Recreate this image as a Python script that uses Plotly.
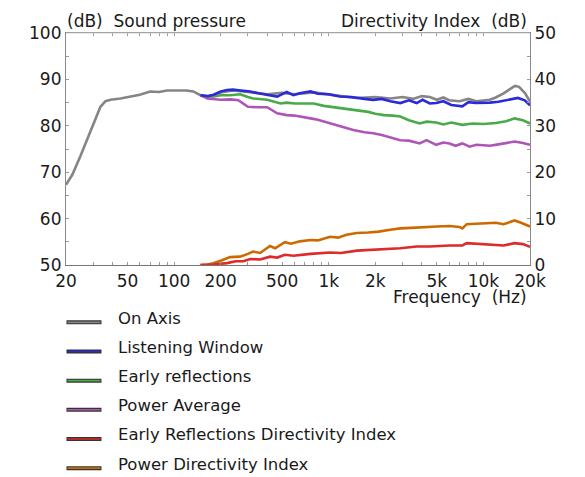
import plotly.graph_objects as go

# ---------------- data ----------------
on_axis_f = [20, 22, 24.8, 27, 28.8, 31, 33.4, 36, 38.8, 45, 50, 54.6, 60, 70, 80, 90, 100, 110, 120, 133, 148,
             165, 180, 200, 240, 300, 400, 500, 600, 800, 1000, 1200, 1500, 2000, 2500, 3000, 3500, 4000, 4500,
             5000, 5500, 6000, 7000, 8000, 9000, 10000, 11000, 12000, 13500, 15000, 16000, 17000, 18600, 20000]
on_axis_db = [67.3, 69.5, 73.5, 76.5, 78.8, 81.5, 84.1, 85.3, 85.6, 85.9, 86.2, 86.3, 86.7, 87.4, 87.3, 87.6, 87.6,
              87.7, 87.6, 87.4, 86.6, 86.3, 86.4, 87.2, 87.6, 87.3, 86.8, 87.1, 86.8, 87.2, 86.7, 86.4, 86.0, 86.2,
              85.9, 86.2, 85.8, 86.4, 86.2, 85.6, 86.1, 85.5, 85.3, 85.8, 85.3, 85.4, 85.6, 86.1, 87.0, 88.0, 88.6,
              88.4, 87.0, 85.2]

lw_f = [148, 165, 180, 200, 220, 240, 270, 311, 350, 400, 464, 535, 590, 650, 762, 850, 1000, 1180, 1400, 1700,
        1940, 2200, 2500, 2900, 3300, 3700, 4040, 4500, 4950, 5500, 6200, 7300, 8000, 8900, 10000, 11000, 12500,
        14500, 16700, 18500, 20000]
lw_db = [86.6, 86.4, 86.7, 87.4, 87.7, 87.8, 87.6, 87.4, 87.0, 86.6, 86.3, 87.3, 86.6, 87.0, 87.4, 86.9, 86.8,
         86.3, 86.2, 85.8, 85.6, 85.8, 85.3, 84.9, 85.5, 84.9, 85.6, 84.8, 84.9, 85.3, 84.5, 84.2, 85.1, 84.9, 84.9,
         85.0, 85.2, 85.6, 86.0, 85.5, 84.4]

er_f = [148, 165, 180, 200, 230, 267, 300, 324, 400, 488, 535, 600, 700, 800, 929, 1100, 1300, 1520, 1800, 2000,
        2270, 2600, 2900, 3300, 3870, 4300, 4950, 5500, 6200, 7300, 8500, 10000, 12000, 14000, 15900, 18000, 20000]
er_db = [86.6, 86.3, 86.3, 86.6, 86.6, 86.8, 86.2, 85.9, 85.6, 84.8, 85.0, 84.8, 84.8, 84.8, 84.3, 84.0, 83.7,
         83.4, 83.0, 82.6, 82.3, 82.2, 82.0, 81.2, 80.5, 80.9, 80.7, 80.3, 80.7, 80.2, 80.5, 80.4, 80.6, 81.0, 81.6,
         81.2, 80.5]

pw_f = [148, 164, 199, 233, 260, 300, 350, 400, 464, 535, 600, 700, 762, 850, 1020, 1200, 1440, 1700, 1940, 2200,
        2500, 2900, 3300, 3870, 4290, 4950, 5500, 6040, 6600, 7300, 8150, 9000, 10000, 11000, 12500, 14000, 15900,
        18000, 20000]
pw_db = [86.6, 85.9, 85.6, 85.7, 85.5, 84.1, 84.0, 84.0, 82.7, 82.3, 82.2, 81.9, 81.6, 81.3, 80.5, 79.9, 79.1,
         78.6, 78.4, 78.0, 77.5, 76.9, 76.8, 76.2, 76.9, 75.9, 76.4, 76.2, 75.7, 76.2, 75.5, 75.9, 75.8, 75.7, 76.0,
         76.3, 76.6, 76.3, 75.9]

erdi_f = [148, 180, 220, 250, 280, 311, 360, 417, 464, 520, 590, 650, 762, 1020, 1200, 1520, 2100, 2900, 3700,
          4500, 6040, 7300, 7800, 9000, 11000, 13500, 15900, 18000, 20000]
erdi_db = [0.0, 0.1, 0.4, 0.8, 0.8, 1.3, 1.2, 1.8, 1.6, 2.2, 2.0, 2.2, 2.4, 2.7, 2.6, 3.1, 3.4, 3.6, 4.0, 4.0, 4.2,
           4.2, 4.7, 4.6, 4.5, 4.2, 4.7, 4.5, 3.9]

pdi_f = [148, 165, 179, 200, 230, 267, 300, 324, 360, 417, 450, 520, 570, 650, 762, 850, 1020, 1150, 1300, 1520,
         1800, 2100, 2500, 2900, 3400, 4040, 5000, 6040, 7000, 7300, 7800, 9000, 10500, 12000, 13500, 15900, 17500,
         20000]
pdi_db = [0.0, 0.1, 0.4, 0.9, 1.7, 1.8, 2.4, 2.9, 2.6, 4.1, 3.6, 4.9, 4.6, 5.1, 5.4, 5.3, 6.1, 5.9, 6.5, 6.9, 7.0,
          7.2, 7.6, 7.9, 8.0, 8.2, 8.3, 8.4, 8.2, 7.9, 8.8, 8.9, 9.0, 9.1, 8.8, 9.6, 9.1, 8.3]

x_tick_vals = [20, 50, 100, 200, 500, 1000, 2000, 5000, 10000, 20000]
x_tick_text = ["20", "50", "100", "200", "500", "1k", "2k", "5k", "10k", "20k"]
x_minor_vals = [30, 40, 60, 70, 80, 90, 300, 400, 600, 700, 800, 900, 3000, 4000, 6000, 7000, 8000, 9000]

series = [
    ("On Axis", on_axis_f, on_axis_db, "#858585", "y"),
    ("Listening Window", lw_f, lw_db, "#2a2ad8", "y"),
    ("Early reflections", er_f, er_db, "#4aaa4a", "y"),
    ("Power Average", pw_f, pw_db, "#b055b8", "y"),
    ("Early Reflections Directivity Index", erdi_f, erdi_db, "#dd2a2a", "y2"),
    ("Power Directivity Index", pdi_f, pdi_db, "#cc6a00", "y2"),
]

# ---------------- figure ----------------
OFF = 8  # page body margin
W, H = 585 - OFF, 477 - OFF
L, R, T, B = 65.5 - OFF, 55, 33 - OFF, 211.7
pw = W - L - R
ph = H - T - B
FONT = "DejaVu Sans"

fig = go.Figure()
draw_order = [5, 4, 3, 2, 0, 1]
for i in draw_order:
    name, f, v, c, ax = series[i]
    fig.add_trace(go.Scatter(x=f, y=v, mode="lines", name=name, yaxis=ax,
                             line=dict(color=c, width=2.6), showlegend=False))

axis_col = "#8a8a8a"
fig.update_layout(
    width=W, height=H,
    margin=dict(l=L, r=R, t=T, b=B, pad=0),
    paper_bgcolor="white", plot_bgcolor="white",
    font=dict(family=FONT, size=17, color="#1a1a1a"),
    xaxis=dict(type="log", range=[1.30103, 4.30103], tickvals=x_tick_vals, ticktext=x_tick_text,
               ticks="inside", ticklen=3, tickcolor="#999", showline=True, linecolor="#777", linewidth=1.2,
               mirror="ticks", showgrid=False, zeroline=False,
               minor=dict(tickvals=x_minor_vals, ticks="inside", ticklen=3, tickcolor="#999", showgrid=False)),
    yaxis=dict(range=[50, 100], dtick=10, ticks="inside", ticklen=3, tickcolor="#999", showline=True,
               linecolor=axis_col, linewidth=1.2, showgrid=False, zeroline=False,
               minor=dict(dtick=5, ticks="inside", ticklen=3, tickcolor="#999")),
    yaxis2=dict(range=[0, 50], dtick=10, overlaying="y", side="right", ticks="inside", ticklen=3,
                tickcolor="#999", showline=True, linecolor=axis_col, linewidth=1.2, showgrid=False,
                zeroline=False, minor=dict(dtick=5, ticks="inside", ticklen=3, tickcolor="#999")),
)

# top border (light)
fig.add_shape(type="line", xref="paper", yref="paper", x0=0, x1=1, y0=1, y1=1,
              line=dict(color="#d0d0d0", width=1))


def py(pix):
    # pix = pixel row in the browser window
    return (H - B - (pix - OFF)) / ph


def px(pix):
    return (pix - OFF - L) / pw


fig.add_annotation(text="(dB)\u00a0 Sound pressure", xref="paper", yref="paper", x=px(64), y=py(21),
                   xanchor="left", yanchor="middle", showarrow=False, font=dict(size=17))
fig.add_annotation(text="Directivity Index\u00a0 (dB)", xref="paper", yref="paper", x=px(529), y=py(21),
                   xanchor="right", yanchor="middle", showarrow=False, font=dict(size=17))
fig.add_annotation(text="Frequency\u00a0 (Hz)", xref="paper", yref="paper", x=px(529), y=py(297),
                   xanchor="right", yanchor="middle", showarrow=False, font=dict(size=17))

# custom legend
leg_y0, leg_dy = 322.7, 29.2
for k, (name, f, v, c, ax) in enumerate(series):
    yy = py(leg_y0 + k * leg_dy)
    fig.add_shape(type="line", xref="paper", yref="paper", x0=px(66), x1=px(101), y0=yy, y1=yy,
                  line=dict(color="#333333", width=4))
    fig.add_shape(type="line", xref="paper", yref="paper", x0=px(67), x1=px(100), y0=yy, y1=yy,
                  line=dict(color=c, width=1.6))
    fig.add_annotation(text=name, xref="paper", yref="paper", x=px(116), y=py(leg_y0 + k * leg_dy - 4),
                       xanchor="left", yanchor="middle", showarrow=False, font=dict(size=16.5))

fig.write_html("out.html")
